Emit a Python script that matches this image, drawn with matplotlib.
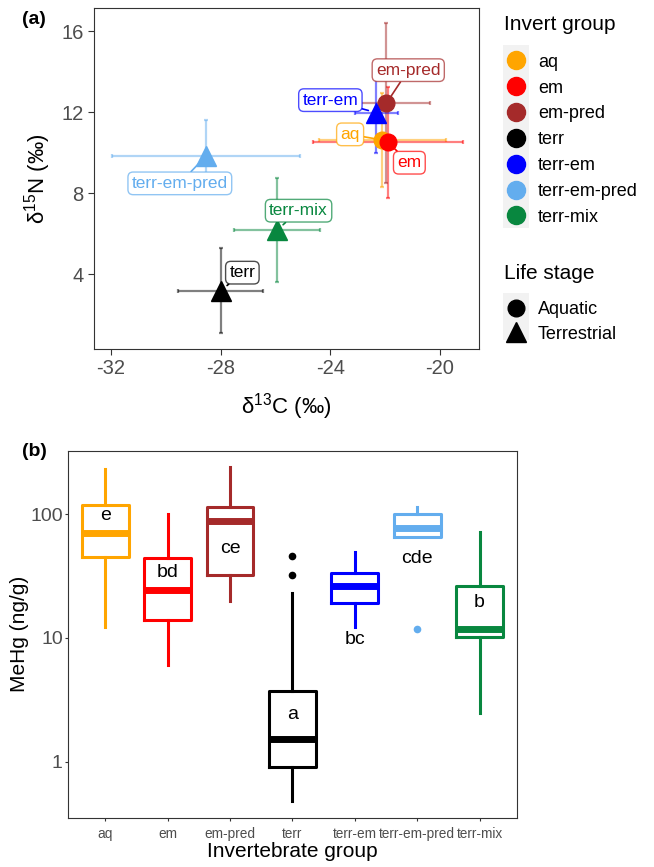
import matplotlib
matplotlib.use('Agg')
import matplotlib.pyplot as plt
from matplotlib.lines import Line2D
from matplotlib.patches import Rectangle
from matplotlib.colors import to_rgba

plt.rcParams['font.family'] = ['Liberation Sans', 'DejaVu Sans']
plt.rcParams['mathtext.fontset'] = 'custom'
plt.rcParams['mathtext.rm'] = 'Liberation Sans'
plt.rcParams['axes.unicode_minus'] = False

groups = ['aq', 'em', 'em-pred', 'terr', 'terr-em', 'terr-em-pred', 'terr-mix']
colors = ['#FFA500', '#FF0000', '#A52A2A', '#000000', '#0000FF', '#63ADEE', '#08873F']
stage = ['Aquatic', 'Aquatic', 'Aquatic', 'Terrestrial', 'Terrestrial', 'Terrestrial', 'Terrestrial']

# panel (a): mean +- sd of d13C and d15N
c13_mean = [-22.1, -21.9, -21.96, -28.0, -22.32, -28.54, -25.95]
c13_sd = [2.31, 2.72, 1.6, 1.55, 0.77, 3.43, 1.56]
n15_mean = [10.62, 10.5, 12.43, 3.17, 11.97, 9.83, 6.16]
n15_sd = [2.3, 2.75, 3.95, 2.1, 2.0, 1.77, 2.57]

# panel (b): MeHg box stats (ng/g)
whislo = [12.3, 6.05, 19.9, 0.48, 12.3, 65.6, 2.49]
q1 = [44.9, 14.0, 32.3, 0.91, 19.0, 65.6, 10.1]
med = [70.2, 24.3, 88.4, 1.53, 26.5, 78.0, 11.9]
q3 = [119, 44.4, 115, 3.72, 33.7, 101, 26.5]
whishi = [232, 100, 240, 23.2, 49.9, 114, 72]
fliers = [[], [], [], [45.7, 32.2], [], [11.8], []]
letters = ['e', 'bd', 'ce', 'a', 'bc', 'cde', 'b']
letter_y = [96.9, 34, 53, 2.41, 9.77, 43.5, 19.5]

# where the repelled labels ended up in panel (a)
label_pos = [(-23.28, 10.9), (-21.12, 9.5), (-21.16, 14.07), (-27.21, 4.07),
             (-24.0, 12.59), (-29.49, 8.48), (-25.16, 7.13)]

fig = plt.figure(figsize=(6.54, 8.67), dpi=100)
tick_col = '#4D4D4D'
edge_col = '#333333'

# ---- panel (a)
ax = fig.add_axes([94/654, 1-349/867, 385/654, 341/867])
for i, g in enumerate(groups):
    ax.errorbar(c13_mean[i], n15_mean[i], xerr=c13_sd[i], yerr=n15_sd[i],
                fmt='none', ecolor=colors[i], alpha=0.5, elinewidth=1.6,
                capsize=1.5, capthick=1.6, zorder=2)
for i, g in enumerate(groups):
    if stage[i] == 'Aquatic':
        ax.plot(c13_mean[i], n15_mean[i], 'o', color=colors[i], ms=12, zorder=3)
    else:
        ax.plot(c13_mean[i], n15_mean[i], '^', color=colors[i], ms=15, zorder=3)
for i, g in enumerate(groups):
    ax.annotate(g, xy=(c13_mean[i], n15_mean[i]), xytext=label_pos[i],
                ha='center', va='center', color=colors[i], fontsize=12.5, zorder=4,
                bbox=dict(boxstyle='round,pad=0.22,rounding_size=0.3', fc='white',
                          ec=to_rgba(colors[i], 0.7), lw=1),
                arrowprops=dict(arrowstyle='-', color=colors[i], lw=1.2,
                                shrinkA=0, shrinkB=6))
ax.set_xlim(-32.62, -18.58)
ax.set_ylim(0.30, 17.14)
ax.set_xticks([-32, -28, -24, -20])
ax.set_yticks([4, 8, 12, 16])
ax.tick_params(labelsize=14.5, colors=edge_col, labelcolor=tick_col, length=4)
ax.set_xlabel(r'$\mathregular{\delta^{13}}$C (‰)', fontsize=16, labelpad=9)
ax.set_ylabel(r'$\mathregular{\delta^{15}}$N (‰)', fontsize=16, labelpad=6)
for s in ax.spines.values():
    s.set_color(edge_col)

# ---- legends
fig.patches.append(Rectangle((503/654, 1-228/867), 26/654, 183/867,
                             transform=fig.transFigure, fc='#F2F2F2', ec='none', zorder=0))
fig.patches.append(Rectangle((503/654, 1-340/867), 26/654, 47/867,
                             transform=fig.transFigure, fc='#F2F2F2', ec='none', zorder=0))
fig.text(504/654, 1-25/867, 'Invert group', fontsize=15, va='center', ha='left')
fig.text(504/654, 1-273.5/867, 'Life stage', fontsize=15, va='center', ha='left')
grp_handles = [Line2D([], [], ls='', marker='o', color=c, ms=13) for c in colors]
fig.legend(grp_handles, groups, loc='upper left',
           bbox_to_anchor=(500/654, 1-46.5/867), frameon=False, fontsize=13,
           handlelength=1.0, handletextpad=0.7,
           labelspacing=0.49, borderaxespad=0)
stg_handles = [Line2D([], [], ls='', marker='o', color='black', ms=12),
               Line2D([], [], ls='', marker='^', color='black', ms=14)]
fig.legend(stg_handles, ['Aquatic', 'Terrestrial'], loc='upper left',
           bbox_to_anchor=(500/654, 1-294/867), frameon=False, fontsize=13,
           handlelength=1.0, handletextpad=0.7,
           labelspacing=0.42, borderaxespad=0)

# ---- panel (b)
bx = fig.add_axes([67.7/654, 1-817.7/867, 449.3/654, 367/867])
for i, g in enumerate(groups):
    st = [dict(whislo=whislo[i], q1=q1[i], med=med[i], q3=q3[i],
               whishi=whishi[i], fliers=fliers[i])]
    c = colors[i]
    bx.bxp(st, positions=[i + 1], widths=0.75, showcaps=False,
           boxprops=dict(color=c, lw=2.2),
           whiskerprops=dict(color=c, lw=2.2),
           medianprops=dict(color=c, lw=5, solid_capstyle='butt'),
           flierprops=dict(marker='o', mfc=c, mec='none', ms=5.5))
    bx.text(i + 1, letter_y[i], letters[i], ha='center', va='center', fontsize=14)
bx.set_yscale('log')
bx.set_ylim(0.352, 326.7)
bx.set_xlim(0.4, 7.6)
bx.set_xticks(range(1, 8))
bx.set_xticklabels(groups, fontsize=9.8)
bx.set_yticks([1, 10, 100])
bx.set_yticklabels(['1', '10', '100'])
bx.minorticks_off()
bx.tick_params(colors=edge_col, labelcolor=tick_col, length=2.5)
bx.tick_params(axis='y', labelsize=14, pad=1)
bx.tick_params(axis='x', pad=4)
bx.set_xlabel('Invertebrate group', fontsize=15, labelpad=1)
bx.set_ylabel('MeHg (ng/g)', fontsize=15, labelpad=1)
for s in bx.spines.values():
    s.set_color(edge_col)

fig.text(22/654, 1-20/867, '(a)', fontsize=14, fontweight='bold', va='center')
fig.text(22/654, 1-452/867, '(b)', fontsize=14, fontweight='bold', va='center')

fig.savefig('out.png', dpi=100)
